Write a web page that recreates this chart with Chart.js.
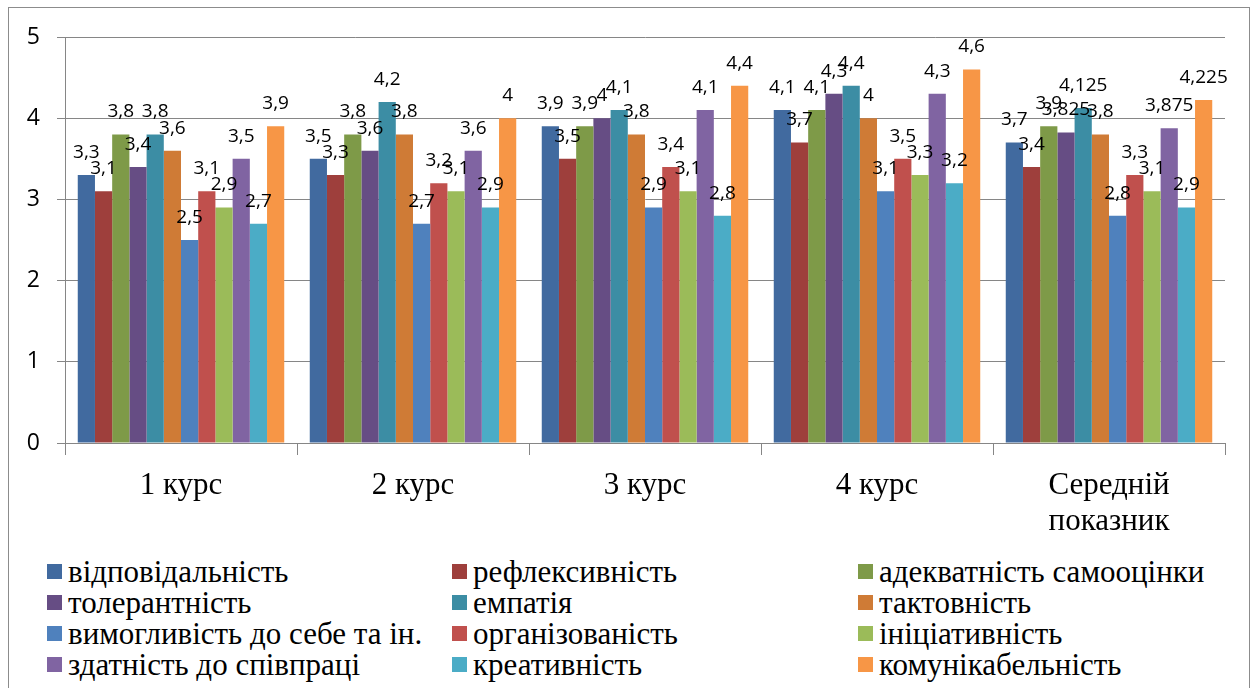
<!DOCTYPE html>
<html>
<head>
<meta charset="utf-8">
<script src="https://cdn.jsdelivr.net/npm/chart.js@4"></script>
<style>
  body { margin: 0; background: #fff; }
  #frame { position: absolute; left: 8px; top: 7px; width: 1242px; height: 700px; border: 1.5px solid #8c8c8c; box-sizing: border-box; }
  #wrap { position: absolute; left: 0; top: 0; width: 1255px; height: 540px; }
  #legend { position: absolute; left: 47px; top: 556px; display: grid; grid-template-columns: 405px 406px 380px; color: #000; }
  #legend .item { display: flex; align-items: center; white-space: nowrap; height: 31px; }
  #legend .box { width: 15px; height: 15px; margin-right: 6px; flex: none; }
  #legend .txt { font-family: 'Liberation Serif', 'Times New Roman', serif; font-size: 31px; line-height: 31px; }
</style>
</head>
<body>
<div id="frame"></div>
<div id="wrap"><canvas id="myChart" width="1255" height="540"></canvas></div>
<div id="legend"></div>
<script>
const categories = ['1 курс', '2 курс', '3 курс', '4 курс', ['Середній', 'показник']];
const seriesNames = ['відповідальність', 'рефлексивність', 'адекватність самооцінки', 'толерантність', 'емпатія', 'тактовність',
  'вимогливість до себе та ін.', 'організованість', 'ініціативність', 'здатність до співпраці', 'креативність', 'комунікабельність'];
const seriesColors = ['#416A9F', '#9E3F3C', '#7E9A48', '#664D84', '#3C8DA4', '#CF7B36',
  '#4F81BD', '#C0504D', '#9BBB59', '#8064A2', '#4BACC6', '#F79646'];
// values per series, in category order
const vidpovidalnist = [3.3, 3.5, 3.9, 4.1, 3.7];
const refleksyvnist = [3.1, 3.3, 3.5, 3.7, 3.4];
const adekvatnist = [3.8, 3.8, 3.9, 4.1, 3.9];
const tolerantnist = [3.4, 3.6, 4, 4.3, 3.825];
const empatiya = [3.8, 4.2, 4.1, 4.4, 4.125];
const taktovnist = [3.6, 3.8, 3.8, 4, 3.8];
const vymoglyvist = [2.5, 2.7, 2.9, 3.1, 2.8];
const organizovanist = [3.1, 3.2, 3.4, 3.5, 3.3];
const initsiatyvnist = [2.9, 3.1, 3.1, 3.3, 3.1];
const spivpratsya = [3.5, 3.6, 4.1, 4.3, 3.875];
const kreatyvnist = [2.7, 2.9, 2.8, 3.2, 2.9];
const komunikabelnist = [3.9, 4, 4.4, 4.6, 4.225];
const seriesValues = [vidpovidalnist, refleksyvnist, adekvatnist, tolerantnist, empatiya, taktovnist,
  vymoglyvist, organizovanist, initsiatyvnist, spivpratsya, kreatyvnist, komunikabelnist];
const yTicks = [0, 1, 2, 3, 4, 5];

const gridColor = '#868686';

const valueLabels = {
  id: 'valueLabels',
  afterDatasetsDraw(chart) {
    const c = chart.ctx;
    c.save();
    c.font = '19px "Open Sans", sans-serif';
    c.fillStyle = '#000';
    c.textAlign = 'center';
    c.textBaseline = 'bottom';
    chart.data.datasets.forEach((ds, i) => {
      chart.getDatasetMeta(i).data.forEach((bar, j) => {
        c.fillText(String(ds.data[j]).replace('.', ','), bar.x, bar.y - 13);
      });
    });
    c.restore();
  }
};

new Chart(document.getElementById('myChart'), {
  type: 'bar',
  data: {
    labels: categories,
    datasets: seriesNames.map((name, i) => ({
      label: name,
      data: seriesValues[i],
      backgroundColor: seriesColors[i],
      borderWidth: 0,
      categoryPercentage: 0.89,
      barPercentage: 1
    }))
  },
  options: {
    responsive: false,
    animation: false,
    layout: { padding: { left: 0, top: 37, right: 30, bottom: 0 } },
    plugins: { legend: { display: false }, title: { display: false }, tooltip: { enabled: false } },
    scales: {
      y: {
        min: 0,
        max: 5,
        afterFit(scale) { scale.width = 65; },
        afterBuildTicks(scale) { scale.ticks = yTicks.map(v => ({ value: v })); },
        border: { display: true, color: gridColor, width: 1 },
        grid: { color: gridColor, lineWidth: 1, drawTicks: true, tickLength: 8 },
        ticks: { font: { family: 'Open Sans', size: 23 }, color: '#000', padding: 17 }
      },
      x: {
        afterFit(scale) { scale.height = 97; },
        border: { display: true, color: gridColor, width: 1 },
        grid: { display: true, drawOnChartArea: false, drawTicks: true, tickLength: 12, color: gridColor },
        ticks: { font: { family: 'Liberation Serif', size: 31, lineHeight: 1.15 }, color: '#000', padding: 13, maxRotation: 0 }
      }
    }
  },
  plugins: [valueLabels]
});

const legend = document.getElementById('legend');
seriesNames.forEach((name, i) => {
  const item = document.createElement('div');
  item.className = 'item';
  item.innerHTML = '<span class="box" style="background:' + seriesColors[i] + '"></span><span class="txt">' + name + '</span>';
  legend.appendChild(item);
});
</script>
</body>
</html>
